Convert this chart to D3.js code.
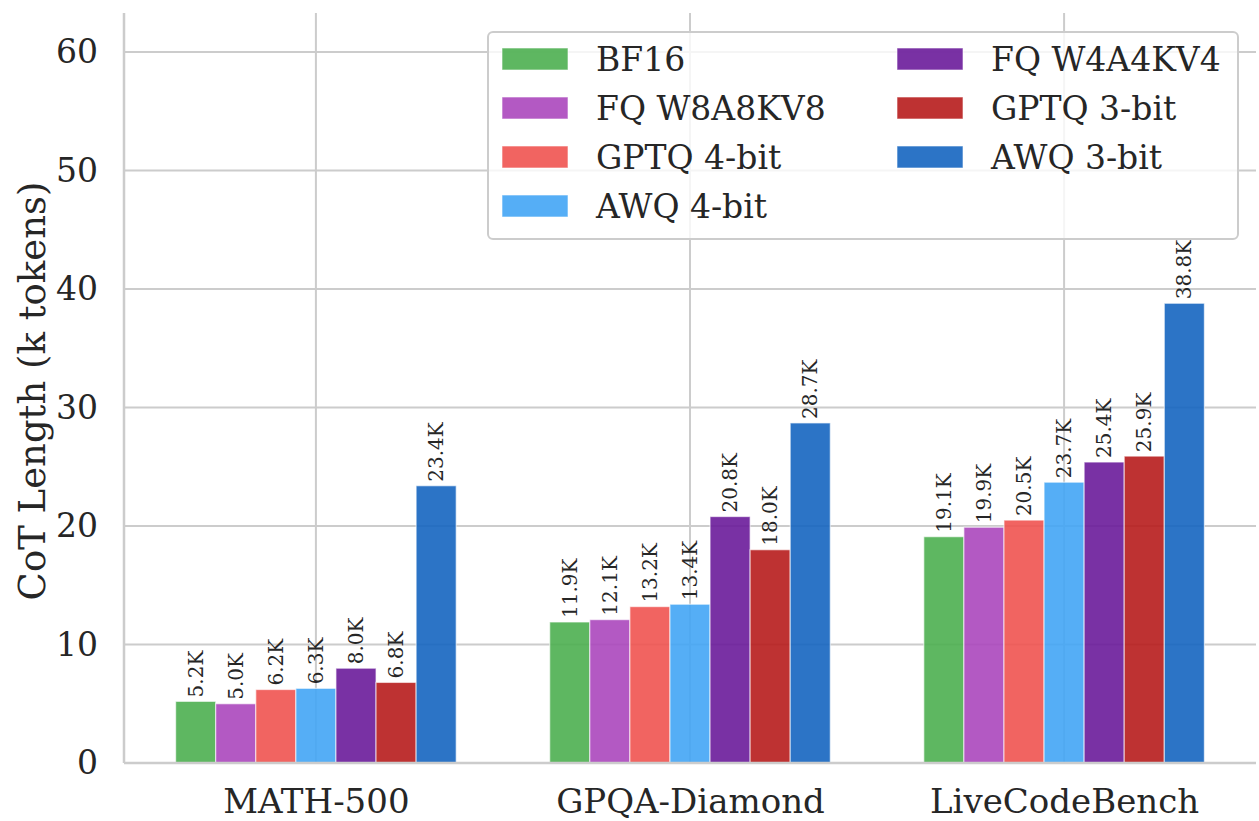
<!DOCTYPE html>
<html>
<head>
<meta charset="utf-8">
<script src="https://cdn.jsdelivr.net/npm/d3@7"></script>
<style>
  html, body { margin: 0; padding: 0; background: #fff; }
  svg { display: block; font-family: "DejaVu Serif", serif; }
</style>
</head>
<body>
<svg id="chart" width="1259" height="821"></svg>
<script>
// Benchmarks on the x axis
const categories = ["MATH-500", "GPQA-Diamond", "LiveCodeBench"];

// Quantization settings (bar order inside each group)
const seriesNames = ["BF16", "FQ W8A8KV8", "GPTQ 4-bit", "AWQ 4-bit", "FQ W4A4KV4", "GPTQ 3-bit", "AWQ 3-bit"];
const seriesColors = ["#4caf50", "#ab47bc", "#ef5350", "#42a5f5", "#6a1b9a", "#b71c1c", "#1565c0"];

// Average chain-of-thought length, in thousands of tokens
const bf16      = [5.2, 11.9, 19.1];
const fqW8A8KV8 = [5.0, 12.1, 19.9];
const gptq4     = [6.2, 13.2, 20.5];
const awq4      = [6.3, 13.4, 23.7];
const fqW4A4KV4 = [8.0, 20.8, 25.4];
const gptq3     = [6.8, 18.0, 25.9];
const awq3      = [23.4, 28.7, 38.8];
const seriesValues = [bf16, fqW8A8KV8, gptq4, awq4, fqW4A4KV4, gptq3, awq3];

const yTicks = [0, 10, 20, 30, 40, 50, 60];

const svg = d3.select("#chart");
const margin = { left: 124, right: 3, top: 13, bottom: 58 };
const W = 1259, H = 821;
const plotW = W - margin.left - margin.right;
const plotH = H - margin.top - margin.bottom;

const g = svg.append("g").attr("transform", `translate(${margin.left},${margin.top})`);

// Category positions: centers at 0,1,2 with padding on both ends
const xLin = d3.scaleLinear().domain([-0.513, 2.513]).range([0, plotW]);
const y = d3.scaleLinear().domain([0, 63.3]).range([plotH, 0]);

const groupWidth = 0.75;
const barW = groupWidth / seriesNames.length;

// Grid
g.append("g").selectAll("line.hgrid").data(yTicks).join("line")
  .attr("x1", 0).attr("x2", plotW)
  .attr("y1", d => y(d)).attr("y2", d => y(d))
  .attr("stroke", "#cccccc").attr("stroke-width", 2);
g.append("g").selectAll("line.vgrid").data(categories).join("line")
  .attr("x1", (d, i) => xLin(i)).attr("x2", (d, i) => xLin(i))
  .attr("y1", 0).attr("y2", plotH)
  .attr("stroke", "#cccccc").attr("stroke-width", 2);

// Bars
const barData = [];
seriesValues.forEach((vals, s) => {
  vals.forEach((v, c) => barData.push({ s, c, v }));
});

const barX = d => xLin(d.c - groupWidth / 2 + d.s * barW);
const barPx = xLin(barW) - xLin(0);

g.append("g").selectAll("rect").data(barData).join("rect")
  .attr("x", barX)
  .attr("y", d => y(d.v))
  .attr("width", barPx)
  .attr("height", d => y(0) - y(d.v))
  .attr("fill", d => seriesColors[d.s])
  .attr("fill-opacity", 0.9)
  .attr("stroke", "#ffffff")
  .attr("stroke-opacity", 0.6)
  .attr("stroke-width", 1.2);

// Value labels, rotated
g.append("g").selectAll("text").data(barData).join("text")
  .attr("transform", d => `translate(${barX(d) + barPx / 2 + 7},${y(d.v) - 4}) rotate(-90)`)
  .attr("font-size", 20)
  .attr("fill", "#262626")
  .attr("text-anchor", "start")
  .text(d => d.v.toFixed(1) + "K");

// Spines
g.append("line").attr("x1", 0).attr("x2", 0).attr("y1", 0).attr("y2", plotH)
  .attr("stroke", "#cccccc").attr("stroke-width", 2.5);
g.append("line").attr("x1", 0).attr("x2", plotW).attr("y1", plotH).attr("y2", plotH)
  .attr("stroke", "#cccccc").attr("stroke-width", 2.5);

// Y tick labels
const yAxis = d3.axisLeft(y).tickValues(yTicks).tickSize(0).tickPadding(26);
const ya = g.append("g").call(yAxis);
ya.select(".domain").remove();
ya.selectAll("text").attr("font-size", 33).attr("fill", "#262626")
  .attr("font-family", "DejaVu Serif, serif");

// X tick labels
const xBand = d3.scaleOrdinal().domain(categories).range(categories.map((d, i) => xLin(i)));
const xAxis = d3.axisBottom(xBand).tickSize(0).tickPadding(26);
const xa = g.append("g").attr("transform", `translate(0,${plotH})`).call(xAxis);
xa.select(".domain").remove();
xa.selectAll("text").attr("font-size", 34).attr("fill", "#262626")
  .attr("font-family", "DejaVu Serif, serif");

// Y axis title
svg.append("text")
  .attr("transform", `translate(45,${margin.top + plotH / 2 + 3}) rotate(-90)`)
  .attr("text-anchor", "middle")
  .attr("font-size", 37)
  .attr("fill", "#262626")
  .text("CoT Length (k tokens)");

// Legend
const legend = svg.append("g");
legend.append("rect")
  .attr("x", 488).attr("y", 32).attr("width", 750).attr("height", 207)
  .attr("rx", 5).attr("ry", 5)
  .attr("fill", "#ffffff").attr("fill-opacity", 0.8)
  .attr("stroke", "#cccccc").attr("stroke-width", 2);

const legendItems = seriesNames.map((name, i) => ({
  name, i,
  col: i < 4 ? 0 : 1,
  row: i < 4 ? i : i - 4
}));
const colX = [502, 897];
const item = legend.selectAll("g.item").data(legendItems).join("g")
  .attr("transform", d => `translate(${colX[d.col]},${59 + d.row * 49})`);
item.append("rect")
  .attr("x", 0).attr("y", -11).attr("width", 66).attr("height", 22)
  .attr("fill", d => seriesColors[d.i]).attr("fill-opacity", 0.9)
  .attr("stroke", "#ffffff").attr("stroke-opacity", 0.6);
item.append("text")
  .attr("x", 94).attr("y", 0).attr("dy", "0.35em")
  .attr("font-size", 33).attr("fill", "#262626")
  .text(d => d.name);
</script>
</body>
</html>
